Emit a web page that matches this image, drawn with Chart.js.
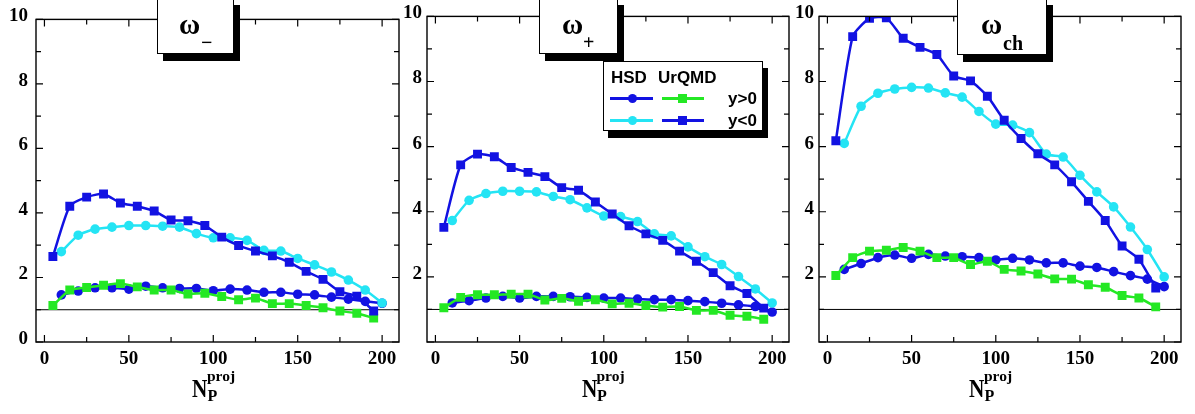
<!DOCTYPE html>
<html>
<head>
<meta charset="utf-8">
<script src="https://cdn.jsdelivr.net/npm/chart.js@4.4.1/dist/chart.umd.min.js"></script>
<style>
    body { margin: 0; background: #fff; width: 1195px; height: 414px; position: relative; overflow: hidden; }
    .painel { position: absolute; top: 0; height: 414px; }
    .caixa { position: absolute; background: #fff; border: 1px solid #000; box-shadow: 6px 7px 0 #000; z-index: 2; }
    .txt { position: absolute; line-height: 1; white-space: nowrap; z-index: 3; color: #000; font-weight: bold; }
    .serif { font-family: "Liberation Serif", "Times New Roman", serif; }
    .sans { font-family: "Liberation Sans", Arial, sans-serif; }
    .estreito { transform: scaleX(0.85); transform-origin: left top; }
    .amostra { position: absolute; height: 3px; z-index: 3; }
    .marca { position: absolute; width: 9px; height: 9px; z-index: 4; }
</style>
</head>
<body>
<div class="painel" id="painelMenos"><canvas id="graficoMenos"></canvas></div>
<div class="painel" id="painelMais"><canvas id="graficoMais"></canvas></div>
<div class="painel" id="painelCh"><canvas id="graficoCh"></canvas></div>

<!-- caixas de titulo -->
<div class="caixa" style="left:157px;top:-2px;width:75px;height:54px"></div>
<span class="txt serif" style="left:179px;top:10px;font-size:29px">ω</span>
<span class="txt serif" style="left:201px;top:32px;font-size:20px">−</span>

<div class="caixa" style="left:539px;top:-2px;width:77px;height:54px"></div>
<span class="txt serif" style="left:562px;top:10px;font-size:29px">ω</span>
<span class="txt serif" style="left:583px;top:32px;font-size:20px">+</span>

<div class="caixa" style="left:957px;top:-2px;width:88px;height:55px"></div>
<span class="txt serif" style="left:981px;top:10px;font-size:29px">ω</span>
<span class="txt serif" style="left:1003px;top:33px;font-size:20px">ch</span>

<!-- legenda -->
<div class="caixa" style="left:603px;top:61px;width:158px;height:68px;box-shadow:5px 7px 0 #000"></div>
<span class="txt sans" style="left:611px;top:69px;font-size:17px">HSD</span>
<span class="txt sans" style="left:658px;top:69px;font-size:17px">UrQMD</span>
<span class="txt sans" style="left:728px;top:90px;font-size:17px">y&gt;0</span>
<span class="txt sans" style="left:728px;top:112px;font-size:17px">y&lt;0</span>
<div id="legendaAmostras"></div>

<!-- titulos do eixo x -->
<div id="titulosX"></div>

<script>
// abscissas: HSD nos multiplos de 10, UrQMD nos intermediarios
const xHsd = [10, 20, 30, 40, 50, 60, 70, 80, 90, 100, 110, 120, 130, 140, 150, 160, 170, 180, 190, 200];
const xUrqmd = [5, 15, 25, 35, 45, 55, 65, 75, 85, 95, 105, 115, 125, 135, 145, 155, 165, 175, 185, 195];
const rotulosX = [0, 50, 100, 150, 200];
const rotulosYPrimeiro = [0, 2, 4, 6, 8, 10];
const rotulosYDemais = [2, 4, 6, 8, 10];
const linhaReferencia = [1, 1];

// omega_-
const menosHsdFrente = [1.46, 1.58, 1.68, 1.68, 1.64, 1.73, 1.68, 1.66, 1.66, 1.59, 1.64, 1.61, 1.54, 1.54, 1.48, 1.46, 1.39, 1.33, 1.26, 1.20];
const menosUrqmdFrente = [1.13, 1.61, 1.69, 1.76, 1.81, 1.71, 1.61, 1.61, 1.49, 1.51, 1.41, 1.31, 1.36, 1.19, 1.19, 1.13, 1.06, 0.96, 0.89, 0.74];
const menosHsdTras = [2.80, 3.31, 3.50, 3.56, 3.61, 3.61, 3.59, 3.56, 3.36, 3.23, 3.23, 3.15, 2.84, 2.82, 2.59, 2.39, 2.17, 1.92, 1.61, 1.21];
const menosUrqmdTras = [2.65, 4.21, 4.49, 4.59, 4.31, 4.21, 4.06, 3.78, 3.76, 3.61, 3.25, 2.99, 2.82, 2.67, 2.47, 2.19, 1.94, 1.56, 1.42, 0.96];

// omega_+
const maisHsdFrente = [1.20, 1.27, 1.35, 1.40, 1.35, 1.40, 1.40, 1.39, 1.37, 1.35, 1.35, 1.32, 1.30, 1.30, 1.27, 1.24, 1.19, 1.14, 1.09, 0.92];
const maisUrqmdFrente = [1.05, 1.37, 1.45, 1.45, 1.47, 1.47, 1.29, 1.34, 1.25, 1.30, 1.17, 1.19, 1.12, 1.07, 1.09, 0.97, 0.97, 0.82, 0.79, 0.70];
const maisHsdTras = [3.73, 4.35, 4.56, 4.63, 4.63, 4.61, 4.47, 4.37, 4.12, 3.87, 3.85, 3.70, 3.32, 3.26, 2.92, 2.62, 2.38, 2.01, 1.63, 1.20];
const maisUrqmdTras = [3.52, 5.44, 5.77, 5.69, 5.36, 5.21, 5.08, 4.74, 4.66, 4.30, 3.93, 3.57, 3.32, 3.12, 2.79, 2.48, 2.13, 1.73, 1.49, 1.04];

// omega_ch
const chHsdFrente = [2.23, 2.41, 2.59, 2.67, 2.57, 2.69, 2.64, 2.62, 2.59, 2.52, 2.57, 2.52, 2.43, 2.43, 2.33, 2.29, 2.16, 2.04, 1.93, 1.70];
const chUrqmdFrente = [2.04, 2.59, 2.79, 2.82, 2.90, 2.79, 2.59, 2.59, 2.38, 2.48, 2.23, 2.18, 2.09, 1.94, 1.93, 1.76, 1.68, 1.43, 1.35, 1.08];
const chHsdTras = [6.10, 7.24, 7.64, 7.77, 7.82, 7.80, 7.65, 7.52, 7.08, 6.69, 6.66, 6.43, 5.77, 5.68, 5.12, 4.61, 4.15, 3.53, 2.84, 2.00];
const chUrqmdTras = [6.18, 9.38, 9.94, 9.96, 9.33, 9.05, 8.83, 8.17, 8.02, 7.55, 6.81, 6.25, 5.78, 5.44, 4.92, 4.32, 3.73, 2.95, 2.54, 1.66];

const AZUL = '#1212e2';
const CIANO = '#24e4f4';
const VERDE = '#24e824';
const FONTE_EIXO = { family: '"Liberation Serif", "Times New Roman", serif', size: 19, weight: 'bold' };

class PainelFlutuacao {
    constructor(config) {
        this.elemento = document.getElementById(config.painel);
        this.canvas = document.getElementById(config.canvas);
        this.esquerda = config.esquerda;
        this.direita = config.direita;
        this.rotulosY = config.rotulosY;
        this.paddingY = config.paddingY;
        this.series = config.series;
    }

    pontos(xs, ys) {
        return xs.map((x, i) => ({ x, y: ys[i] }));
    }

    serie(xs, ys, cor, estilo) {
        return {
            data: this.pontos(xs, ys),
            borderColor: cor,
            backgroundColor: cor,
            borderWidth: 2.5,
            pointStyle: estilo,
            pointRadius: estilo === 'rect' ? 6.3 : 4.8,
            pointBorderWidth: 0,
            pointBackgroundColor: cor,
            tension: 0.2,
            order: 1,
        };
    }

    iniciar() {
        const margem = 40;
        const folga = 10;
        this.elemento.style.left = `${this.esquerda - margem}px`;
        this.elemento.style.width = `${this.direita - this.esquerda + margem + folga}px`;

        const [hsdFrente, urqmdFrente, hsdTras, urqmdTras] = this.series;
        const datasets = [
            this.serie(xUrqmd, urqmdTras, AZUL, 'rect'),
            this.serie(xHsd, hsdTras, CIANO, 'circle'),
            this.serie(xUrqmd, urqmdFrente, VERDE, 'rect'),
            this.serie(xHsd, hsdFrente, AZUL, 'circle'),
            {
                data: [{ x: -5, y: linhaReferencia[0] }, { x: 210, y: linhaReferencia[1] }],
                borderColor: '#000',
                borderWidth: 1,
                pointRadius: 0,
                order: 10,
            },
        ];

        const rotulosY = this.rotulosY;
        this.grafico = new Chart(this.canvas, {
            type: 'line',
            data: { datasets },
            options: {
                responsive: true,
                maintainAspectRatio: false,
                animation: false,
                layout: { padding: { top: 11, right: folga, left: 0, bottom: 0 } },
                plugins: { legend: { display: false }, tooltip: { enabled: false } },
                scales: {
                    x: {
                        type: 'linear',
                        min: -5,
                        max: 210,
                        grid: { display: false, drawTicks: false },
                        border: { display: false },
                        afterBuildTicks: escala => { escala.ticks = rotulosX.map(v => ({ value: v })); },
                        afterFit: escala => { escala.height = 72; },
                        ticks: { font: FONTE_EIXO, color: '#000', padding: 6, autoSkip: false, maxRotation: 0 },
                    },
                    y: {
                        type: 'linear',
                        min: 0,
                        max: 10,
                        grid: { display: false, drawTicks: false },
                        border: { display: false },
                        afterBuildTicks: escala => { escala.ticks = rotulosY.map(v => ({ value: v })); },
                        afterFit: escala => { escala.width = margem; },
                        ticks: { font: FONTE_EIXO, color: '#000', padding: this.paddingY, labelOffset: -3, autoSkip: false },
                    },
                },
            },
            plugins: [molduraPlugin],
        });
    }
}

// moldura com marcas internas nos quatro lados
const molduraPlugin = {
    id: 'moldura',
    afterDraw(chart) {
        const { ctx, chartArea: a, scales: { x, y } } = chart;
        ctx.save();
        ctx.strokeStyle = '#000';
        ctx.lineWidth = 1.4;
        ctx.strokeRect(a.left, a.top, a.right - a.left, a.bottom - a.top);
        ctx.lineWidth = 1.2;
        ctx.beginPath();
        for (let v = 0; v <= 200; v += 25) {
            const px = x.getPixelForValue(v);
            const tam = v % 50 === 0 ? 7 : 5;
            ctx.moveTo(px, a.bottom); ctx.lineTo(px, a.bottom - tam);
            ctx.moveTo(px, a.top); ctx.lineTo(px, a.top + tam);
        }
        for (let v = 0; v <= 10; v++) {
            const py = y.getPixelForValue(v);
            const tam = v % 2 === 0 ? 7 : 5;
            ctx.moveTo(a.left, py); ctx.lineTo(a.left + tam, py);
            ctx.moveTo(a.right, py); ctx.lineTo(a.right - tam, py);
        }
        ctx.stroke();
        ctx.restore();
    },
};

function montarLegenda() {
    const linhas = [
        { y: 98, cores: [AZUL, VERDE] },
        { y: 120, cores: [CIANO, AZUL] },
    ];
    const html = linhas.map(linha => `
        <div class="amostra" style="left:610px;top:${linha.y - 1.5}px;width:43px;background:${linha.cores[0]}"></div>
        <div class="marca" style="left:627.5px;top:${linha.y - 4.5}px;border-radius:50%;background:${linha.cores[0]}"></div>
        <div class="amostra" style="left:662px;top:${linha.y - 1.5}px;width:42px;background:${linha.cores[1]}"></div>
        <div class="marca" style="left:678px;top:${linha.y - 4.5}px;background:${linha.cores[1]}"></div>
    `).join('');
    document.getElementById('legendaAmostras').innerHTML = html;
}

function montarTitulosX() {
    const posicoes = [192, 581.5, 969];
    document.getElementById('titulosX').innerHTML = posicoes.map(x => `
        <span class="txt serif estreito" style="left:${x}px;top:376px;font-size:25px">N</span>
        <span class="txt serif" style="left:${x + 15}px;top:367.5px;font-size:15.5px">proj</span>
        <span class="txt serif" style="left:${x + 15.5}px;top:387.5px;font-size:16px">P</span>
    `).join('');
}

document.addEventListener('DOMContentLoaded', () => {
    const paineis = [
        { painel: 'painelMenos', canvas: 'graficoMenos', esquerda: 36, direita: 399, rotulosY: rotulosYPrimeiro, paddingY: 8,
          series: [menosHsdFrente, menosUrqmdFrente, menosHsdTras, menosUrqmdTras] },
        { painel: 'painelMais', canvas: 'graficoMais', esquerda: 427, direita: 789, rotulosY: rotulosYDemais, paddingY: 5,
          series: [maisHsdFrente, maisUrqmdFrente, maisHsdTras, maisUrqmdTras] },
        { painel: 'painelCh', canvas: 'graficoCh', esquerda: 819, direita: 1181, rotulosY: rotulosYDemais, paddingY: 5,
          series: [chHsdFrente, chUrqmdFrente, chHsdTras, chUrqmdTras] },
    ];
    paineis.forEach(config => new PainelFlutuacao(config).iniciar());
    montarLegenda();
    montarTitulosX();
});
</script>
</body>
</html>
